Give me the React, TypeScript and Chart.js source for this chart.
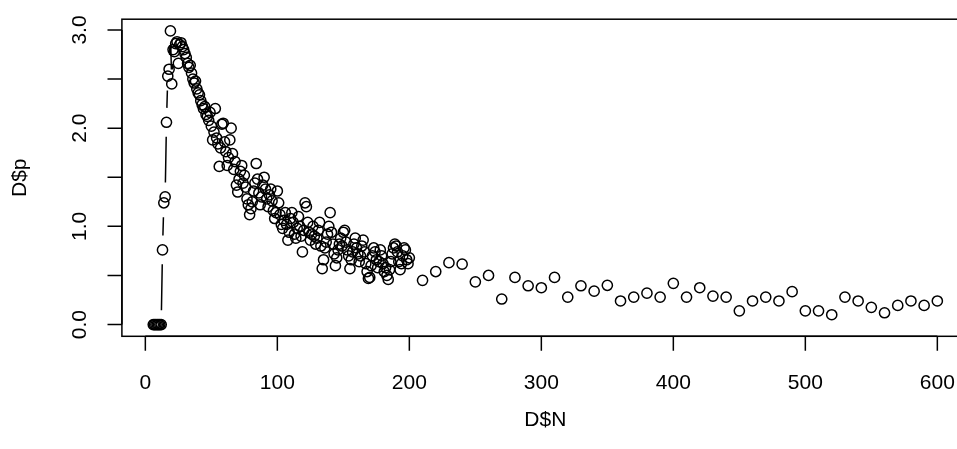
import { useEffect, useRef } from "react";
import { Chart, registerables } from "chart.js";

Chart.register(...registerables);

// ---- data: D$N and D$p ----
const nDense = [
  6, 7, 8, 9, 10, 11, 12, 13, 14, 15, 16, 17, 18, 19, 20,
  21, 22, 23, 24, 25, 26, 27, 28, 29, 30,
  31, 32, 33, 34, 35, 36, 37, 38, 39, 40,
  41, 42, 43, 44, 45, 46, 47, 48, 49, 50,
  51, 52, 53, 54, 55, 56, 57, 58, 59, 60,
  61, 62, 63, 64, 65, 66, 67, 68, 69, 70,
  71, 72, 73, 74, 75, 76, 77, 78, 79, 80,
  81, 82, 83, 84, 85, 86, 87, 88, 89, 90,
  91, 92, 93, 94, 95, 96, 97, 98, 99, 100,
  101, 102, 103, 104, 105, 106, 107, 108, 109, 110,
  111, 112, 113, 114, 115, 116, 117, 118, 119, 120,
  121, 122, 123, 124, 125, 126, 127, 128, 129, 130,
  131, 132, 133, 134, 135, 136, 137, 138, 139, 140,
  141, 142, 143, 144, 145, 146, 147, 148, 149, 150,
  151, 152, 153, 154, 155, 156, 157, 158, 159, 160,
  161, 162, 163, 164, 165, 166, 167, 168, 169, 170,
  171, 172, 173, 174, 175, 176, 177, 178, 179, 180,
  181, 182, 183, 184, 185, 186, 187, 188, 189, 190,
  191, 192, 193, 194, 195, 196, 197, 198, 199, 200,
];
const pDense = [
  0, 0, 0, 0, 0, 0, 0, 0.76, 1.24, 1.30, 2.06, 2.53, 2.60, 2.99, 2.45,
  2.80, 2.78, 2.86, 2.88, 2.66, 2.85, 2.87, 2.83, 2.80, 2.76,
  2.72, 2.66, 2.62, 2.64, 2.56, 2.50, 2.46, 2.48, 2.40, 2.36,
  2.34, 2.28, 2.24, 2.20, 2.22, 2.14, 2.12, 2.08, 2.16, 2.02,
  1.88, 1.96, 2.20, 1.90, 1.84, 1.61, 1.80, 2.04, 2.05, 1.86,
  1.76, 1.62, 1.70, 1.88, 2.00, 1.74, 1.58, 1.66, 1.42, 1.35,
  1.48, 1.56, 1.62, 1.44, 1.52, 1.40, 1.28, 1.22, 1.12, 1.18,
  1.25, 1.36, 1.44, 1.64, 1.48, 1.34, 1.22, 1.30, 1.42, 1.50,
  1.38, 1.28, 1.20, 1.32, 1.38, 1.26, 1.16, 1.08, 1.14, 1.36,
  1.24, 1.12, 1.02, 0.98, 1.06, 1.14, 1.02, 0.86, 0.94, 1.08,
  1.14, 1.04, 0.92, 0.88, 0.98, 1.10, 1.00, 0.90, 0.74, 0.96,
  1.24, 1.20, 1.04, 0.94, 0.86, 0.92, 1.00, 0.90, 0.82, 0.88,
  0.96, 1.04, 0.80, 0.57, 0.66, 0.78, 0.84, 0.92, 1.00, 1.14,
  0.94, 0.82, 0.72, 0.60, 0.68, 0.76, 0.82, 0.88, 0.80, 0.94,
  0.96, 0.84, 0.76, 0.70, 0.57, 0.66, 0.74, 0.82, 0.88, 0.78,
  0.72, 0.64, 0.70, 0.80, 0.86, 0.74, 0.62, 0.54, 0.47, 0.48,
  0.60, 0.70, 0.78, 0.74, 0.66, 0.58, 0.64, 0.76, 0.70, 0.62,
  0.54, 0.58, 0.50, 0.46, 0.56, 0.64, 0.72, 0.78, 0.82, 0.80,
  0.74, 0.64, 0.56, 0.62, 0.70, 0.78, 0.76, 0.66, 0.62, 0.68,
];
const nSparse = [
  210, 220, 230, 240, 250, 260, 270, 280, 290, 300,
  310, 320, 330, 340, 350, 360, 370, 380, 390, 400,
  410, 420, 430, 440, 450, 460, 470, 480, 490, 500,
  510, 520, 530, 540, 550, 560, 570, 580, 590, 600,
];
const pSparse = [
  0.45, 0.54, 0.63, 0.615, 0.435, 0.50, 0.26, 0.48, 0.395, 0.375,
  0.48, 0.28, 0.395, 0.34, 0.40, 0.24, 0.28, 0.32, 0.28, 0.42,
  0.28, 0.375, 0.29, 0.28, 0.14, 0.24, 0.28, 0.24, 0.335, 0.14,
  0.14, 0.10, 0.28, 0.24, 0.175, 0.12, 0.195, 0.24, 0.195, 0.24,
];

const xTicks = [0, 100, 200, 300, 400, 500, 600];
const xTickLabels = ["0", "100", "200", "300", "400", "500", "600"];
const yTicks = [0, 0.5, 1, 1.5, 2, 2.5, 3];
const yTickLabels = ["0.0", "", "1.0", "", "2.0", "", "3.0"];
const xTitle = "D$N";
const yTitle = "D$p";

// ---- styling / layout ----
const FONT = '"Liberation Sans", Arial, Helvetica, sans-serif';
const FS = 21;
const LW = 1.5;
const TICK = 14.4;
const GAP = 14.4;
const CANVAS_W = 990;
const CANVAS_H = 449;

const allN = [...nDense, ...nSparse];
const allP = [...pDense, ...pSparse];

function rRange(vals: number[]) {
  const lo = Math.min(...vals);
  const hi = Math.max(...vals);
  const e = 0.04 * (hi - lo);
  return [lo - e, hi + e];
}

const gappedLine = {
  id: "gappedLine",
  afterDatasetsDraw(chart: any) {
    const meta = chart.getDatasetMeta(0);
    const pts = meta.data;
    const ctx = chart.ctx;
    ctx.save();
    ctx.strokeStyle = "#000";
    ctx.lineWidth = LW;
    ctx.beginPath();
    for (let i = 1; i < pts.length; i++) {
      const a = pts[i - 1];
      const b = pts[i];
      const dx = b.x - a.x;
      const dy = b.y - a.y;
      const L = Math.hypot(dx, dy);
      if (L === 0) continue;
      const f = GAP / L;
      if (f < 0.5) {
        ctx.moveTo(a.x + f * dx, a.y + f * dy);
        ctx.lineTo(b.x - f * dx, b.y - f * dy);
      }
    }
    ctx.stroke();
    ctx.restore();
  },
};

const rAxes = {
  id: "rAxes",
  afterDraw(chart: any) {
    const { ctx, chartArea: a } = chart;
    const xs = chart.scales.x;
    const ys = chart.scales.y;
    ctx.save();
    ctx.strokeStyle = "#000";
    ctx.fillStyle = "#000";
    ctx.lineWidth = LW;
    // box
    ctx.strokeRect(a.left, a.top, a.right - a.left, a.bottom - a.top);
    // x axis
    ctx.beginPath();
    ctx.moveTo(xs.getPixelForValue(xTicks[0]), a.bottom);
    ctx.lineTo(xs.getPixelForValue(xTicks[xTicks.length - 1]), a.bottom);
    for (const t of xTicks) {
      const px = xs.getPixelForValue(t);
      ctx.moveTo(px, a.bottom);
      ctx.lineTo(px, a.bottom + TICK);
    }
    // y axis
    ctx.moveTo(a.left, ys.getPixelForValue(yTicks[0]));
    ctx.lineTo(a.left, ys.getPixelForValue(yTicks[yTicks.length - 1]));
    for (const t of yTicks) {
      const py = ys.getPixelForValue(t);
      ctx.moveTo(a.left, py);
      ctx.lineTo(a.left - TICK, py);
    }
    ctx.stroke();

    ctx.font = `${FS}px ${FONT}`;
    ctx.textAlign = "center";
    ctx.textBaseline = "alphabetic";
    xTicks.forEach((t, i) => {
      ctx.fillText(xTickLabels[i], xs.getPixelForValue(t), a.bottom + 52.7);
    });
    yTicks.forEach((t, i) => {
      if (!yTickLabels[i]) return;
      ctx.save();
      ctx.translate(a.left - 36.4, ys.getPixelForValue(t));
      ctx.rotate(-Math.PI / 2);
      ctx.fillText(yTickLabels[i], 0, 0);
      ctx.restore();
    });
    // titles
    ctx.fillText(xTitle, (a.left + a.right) / 2, a.bottom + 89.5);
    ctx.save();
    ctx.translate(a.left - 96, (a.top + a.bottom) / 2);
    ctx.rotate(-Math.PI / 2);
    ctx.fillText(yTitle, 0, 0);
    ctx.restore();
    ctx.restore();
  },
};

export default function App() {
  const ref = useRef<HTMLCanvasElement | null>(null);

  useEffect(() => {
    if (!ref.current) return;
    const [xlo, xhi] = rRange(allN);
    const [ylo, yhi] = rRange(allP);
    const points = allN.map((n, i) => ({ x: n, y: allP[i] }));
    const chart = new Chart(ref.current, {
      type: "scatter",
      data: {
        datasets: [
          {
            data: points,
            showLine: false,
            pointStyle: "circle",
            pointRadius: 5.1,
            pointHoverRadius: 5.1,
            pointBorderWidth: LW,
            borderColor: "#000",
            backgroundColor: "rgba(0,0,0,0)",
            pointBackgroundColor: "rgba(0,0,0,0)",
            pointBorderColor: "#000",
          },
        ],
      },
      options: {
        responsive: false,
        animation: false,
        devicePixelRatio: 1,
        events: [],
        layout: {
          padding: { left: 121.9, top: 19.2, right: CANVAS_W - 968.7, bottom: CANVAS_H - 336.3 },
        },
        plugins: {
          legend: { display: false },
          tooltip: { enabled: false },
        },
        scales: {
          x: { type: "linear", min: xlo, max: xhi, display: false },
          y: { type: "linear", min: ylo, max: yhi, display: false },
        },
      },
      plugins: [gappedLine, rAxes],
    });
    return () => chart.destroy();
  }, []);

  return (
    <div
      style={{
        position: "fixed",
        left: 0,
        top: 0,
        width: 957,
        height: 449,
        overflow: "hidden",
        background: "#fff",
      }}
    >
      <canvas ref={ref} width={CANVAS_W} height={CANVAS_H} style={{ display: "block" }} />
    </div>
  );
}
